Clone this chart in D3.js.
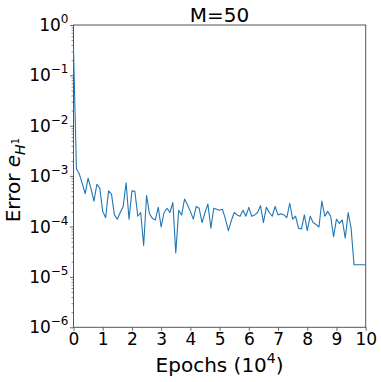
<!DOCTYPE html>
<html>
<head>
<meta charset="utf-8">
<script src="https://cdn.jsdelivr.net/npm/d3@7"></script>
<style>
  body { margin: 0; background: #fff; }
  text { font-family: "DejaVu Sans", sans-serif; fill: #000; }
</style>
</head>
<body>
<script>
// epochs in units of 10^4, error e_H1
var epochs = [0.0, 0.1, 0.2, 0.3, 0.4, 0.5, 0.6, 0.7, 0.8, 0.9,
    1.0, 1.1, 1.2, 1.3, 1.4, 1.5, 1.6, 1.7, 1.8, 1.9,
    2.0, 2.1, 2.2, 2.3, 2.4, 2.5, 2.6, 2.7, 2.8, 2.9,
    3.0, 3.1, 3.2, 3.3, 3.4, 3.5, 3.6, 3.7, 3.8, 3.9,
    4.0, 4.1, 4.2, 4.3, 4.4, 4.5, 4.6, 4.7, 4.8, 4.9,
    5.0, 5.1, 5.2, 5.3, 5.4, 5.5, 5.6, 5.7, 5.8, 5.9,
    6.0, 6.1, 6.2, 6.3, 6.4, 6.5, 6.6, 6.7, 6.8, 6.9,
    7.0, 7.1, 7.2, 7.3, 7.4, 7.5, 7.6, 7.7, 7.8, 7.9,
    8.0, 8.1, 8.2, 8.3, 8.4, 8.5, 8.6, 8.7, 8.8, 8.9,
    9.0, 9.1, 9.2, 9.3, 9.4, 9.5, 9.6, 10.0];

var errors = [3.3e-1, 1.4e-3, 1.1e-3, 7.1e-4, 4.5e-4, 9.1e-4, 5.6e-4, 3.2e-4, 6.9e-4, 5.8e-4,
    2.0e-4, 1.5e-4, 5.1e-4, 4.4e-4, 1.7e-4, 1.4e-4, 1.9e-4, 2.5e-4, 7.4e-4, 1.4e-4,
    5.1e-4, 5.0e-4, 1.6e-4, 1.9e-4, 4.2e-5, 4.1e-4, 1.8e-4, 1.45e-4, 1.35e-4, 2.4e-4,
    9.8e-5, 1.9e-4, 2.3e-4, 1.9e-4, 3.0e-4, 3.0e-5, 2.1e-4, 1.7e-4, 3.5e-4, 2.7e-4,
    2.0e-4, 1.4e-4, 2.5e-4, 2.3e-4, 1.2e-4, 1.9e-4, 2.8e-4, 9.3e-5, 2.3e-4, 2.2e-4,
    2.1e-4, 2.2e-4, 1.4e-4, 8.3e-5, 1.3e-4, 1.9e-4, 1.7e-4, 1.6e-4, 2.1e-4, 1.6e-4,
    2.4e-4, 1.6e-4, 1.7e-4, 1.9e-4, 2.6e-4, 1.2e-4, 2.4e-4, 1.9e-4, 1.6e-4, 2.5e-4,
    1.7e-4, 1.8e-4, 1.7e-4, 1.5e-4, 2.9e-4, 1.4e-4, 1.6e-4, 9.3e-5, 8.9e-5, 1.7e-4,
    8.3e-5, 1.6e-4, 1.2e-4, 1.1e-4, 9.8e-5, 3.2e-4, 1.6e-4, 2.0e-4, 1.6e-4, 6.3e-5,
    1.4e-4, 1.15e-4, 1.35e-4, 5.9e-5, 1.9e-4, 9.3e-5, 1.74e-5, 1.74e-5];

var xTicks = [0, 1, 2, 3, 4, 5, 6, 7, 8, 9, 10];
var yExponents = [0, -1, -2, -3, -4, -5, -6];
var title = 'M=50';

var width = 381, height = 382;
var margin = {left: 73.5, right: 15.3, top: 25, bottom: 54.7};

var svg = d3.select('body').append('svg')
    .attr('width', width)
    .attr('height', height);

var x = d3.scaleLinear()
    .domain([0, 10])
    .range([margin.left, width - margin.right]);

var y = d3.scaleLog()
    .domain([1e-6, 1])
    .range([height - margin.bottom, margin.top]);

var data = epochs.map(function(e, i) { return {x: e, y: errors[i]}; });

// frame first, so the curve sits on top of the left spine
svg.append('rect')
    .attr('x', margin.left)
    .attr('y', margin.top)
    .attr('width', width - margin.left - margin.right)
    .attr('height', height - margin.top - margin.bottom)
    .attr('fill', 'none')
    .attr('stroke', '#555')
    .attr('stroke-width', 1);

// x axis
var xAxis = svg.append('g')
    .attr('transform', 'translate(0,' + (height - margin.bottom) + ')')
    .call(d3.axisBottom(x).tickValues(xTicks).tickSize(3.5).tickPadding(2).tickFormat(d3.format('d')));
xAxis.select('.domain').remove();
xAxis.selectAll('line').attr('stroke', '#444').attr('stroke-width', 0.8);
xAxis.selectAll('text')
    .style('font-family', '"DejaVu Sans", sans-serif')
    .style('font-size', '17px')
    .attr('fill', '#000');

// y axis, major ticks with 10^n labels
var majorVals = yExponents.map(function(p) { return Math.pow(10, p); });
var minorVals = [];
for (var p = -6; p < 0; p++) {
    for (var m = 2; m < 10; m++) {
        minorVals.push(m * Math.pow(10, p));
    }
}

var yMinor = svg.append('g')
    .attr('transform', 'translate(' + margin.left + ',0)')
    .call(d3.axisLeft(y).tickValues(minorVals).tickSize(2).tickFormat(''));
yMinor.select('.domain').remove();
yMinor.selectAll('line').attr('stroke', '#444').attr('stroke-width', 0.6);

var yAxis = svg.append('g')
    .attr('transform', 'translate(' + margin.left + ',0)')
    .call(d3.axisLeft(y).tickValues(majorVals).tickSize(3.5).tickFormat(''));
yAxis.select('.domain').remove();
yAxis.selectAll('line').attr('stroke', '#444').attr('stroke-width', 0.8);

var yLabels = svg.append('g');
yExponents.forEach(function(p) {
    var t = yLabels.append('text')
        .attr('x', margin.left - 5)
        .attr('y', y(Math.pow(10, p)) + 6)
        .attr('text-anchor', 'end')
        .style('font-size', '17px');
    t.append('tspan').text('10');
    t.append('tspan')
        .attr('dy', -8)
        .style('font-size', '12px')
        .text(p === 0 ? '0' : '\u2212' + (-p));
});

// line
var line = d3.line()
    .x(function(d) { return x(d.x); })
    .y(function(d) { return y(d.y); });

svg.append('path')
    .datum(data)
    .attr('fill', 'none')
    .attr('stroke', '#1f77b4')
    .attr('stroke-width', 1.1)
    .attr('stroke-linejoin', 'round')
    .attr('d', line);

// title
svg.append('text')
    .attr('x', (margin.left + width - margin.right) / 2)
    .attr('y', 21.5)
    .attr('text-anchor', 'middle')
    .style('font-size', '20px')
    .text(title);

// x label
var xl = svg.append('text')
    .attr('x', (margin.left + width - margin.right) / 2)
    .attr('y', 372)
    .attr('text-anchor', 'middle')
    .style('font-size', '20px');
xl.append('tspan').text('Epochs (10');
xl.append('tspan').attr('dy', -9).style('font-size', '14px').text('4');
xl.append('tspan').attr('dy', 9).text(')');

// y label
var yl = svg.append('text')
    .attr('transform', 'translate(20,' + ((margin.top + height - margin.bottom) / 2 + 4) + ') rotate(-90)')
    .attr('text-anchor', 'middle')
    .style('font-size', '20px');
yl.append('tspan').text('Error ');
yl.append('tspan').style('font-style', 'italic').text('e');
yl.append('tspan').attr('dy', 5).style('font-size', '14px').style('font-style', 'italic').text('H');
yl.append('tspan').attr('dy', -6).style('font-size', '10px').text('1');
</script>
</body>
</html>
